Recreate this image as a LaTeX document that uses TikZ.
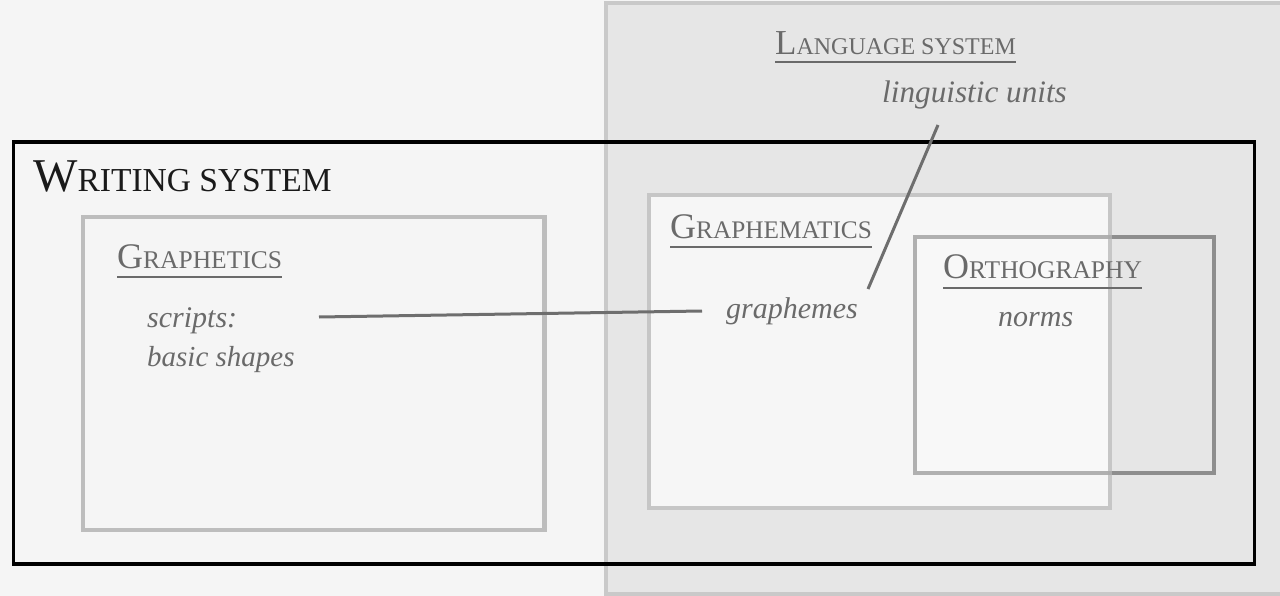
\documentclass[tikz,border=0pt]{standalone}
\usepackage{fontspec}
\setmainfont{Liberation Serif}
% capital followed by smaller capitals, used for the headings
\newcommand\capsc[4]{{\fontsize{#1}{#1}\selectfont #2\fontsize{#3}{#3}\selectfont #4}}
\definecolor{paper}{HTML}{F5F5F5}
\definecolor{langfill}{HTML}{E6E6E6}
\definecolor{langedge}{HTML}{C9C9C9}
\definecolor{boxedge}{HTML}{BDBDBD}
\definecolor{gmedge}{HTML}{C6C6C6}
\definecolor{gmfill}{HTML}{F6F6F6}
\definecolor{orthedge}{HTML}{8E8E8E}
\definecolor{labelgray}{HTML}{6A6A6A}
\definecolor{linkgray}{HTML}{6E6E6E}
\definecolor{titleblack}{HTML}{1A1A1A}
\begin{document}
\begin{tikzpicture}[x=1pt,y=-1pt,
  head/.style={anchor=base west,inner sep=0pt,text=labelgray},
  note/.style={anchor=base west,inner sep=0pt,text=labelgray,
    font=\fontsize{30pt}{39pt}\selectfont\itshape,align=left},
  uline/.style={draw=labelgray,line width=1.8pt},
  link/.style={draw=linkgray,line width=3pt},
]
\fill[paper] (0,0) rectangle (1280,596);
\useasboundingbox (0,0) rectangle (1280,596);

% language system: grey field on the right
\draw[fill=langfill,draw=langedge,line width=4pt] (606,3.5) rectangle (1292,594);

% writing system frame
\draw[draw=black,line width=3.6pt] (13.5,142) rectangle (1254.5,564);

% graphetics box
\draw[draw=boxedge,line width=4.5pt] (83,217) rectangle (544.5,530);

% graphematics box
\draw[fill=gmfill,draw=gmedge,line width=4pt] (649,195) rectangle (1110,507.5);

% orthography box
\draw[draw=orthedge,line width=4pt] (915,237) rectangle (1214,473);
\fill[white,opacity=0.3] (913,235) rectangle (1108,475);
\draw[draw=gmedge,opacity=0.55,line width=4pt] (649,195) rectangle (1110,507.5);

% headings
\node[head,text=titleblack] (ws) at (33,192) {\capsc{47pt}{W}{33.5pt}{RITING SYSTEM}};

\node[head] (ls) at (775,55) {\capsc{35pt}{L}{24pt}{ANGUAGE SYSTEM}};
\draw[uline] ([yshift=-7pt]ls.base west) -- ([yshift=-7pt]ls.base east);

\node[head] (gt) at (117,269) {\capsc{36pt}{G}{25.5pt}{RAPHETICS}};
\draw[uline] ([yshift=-8pt]gt.base west) -- ([yshift=-8pt]gt.base east);

\node[head] (gm) at (670,239) {\capsc{36pt}{G}{25.3pt}{RAPHEMATICS}};
\draw[uline] ([yshift=-8pt]gm.base west) -- ([yshift=-8pt]gm.base east);

\node[head] (or) at (943,279) {\capsc{36pt}{O}{25.5pt}{RTHOGRAPHY}};
\draw[uline] ([yshift=-9pt]or.base west) -- ([yshift=-9pt]or.base east);

% contents
\node[note,font=\fontsize{31.2pt}{39pt}\selectfont\itshape] (lu) at (882,103) {linguistic units};
\node[note] (sc) at (147,327) {scripts:};
\node[note,font=\fontsize{29pt}{39pt}\selectfont\itshape] (bs) at (147,366) {basic shapes};
\node[note] (gr) at (726,318) {graphemes};
\node[note] (nm) at (998,326) {norms};

% connectors
\coordinate (scEnd) at (319,317);
\coordinate (grEnd) at (702,311);
\coordinate (luEnd) at (938,125);
\coordinate (grTop) at (868,289);
\draw[link] (scEnd) -- (grEnd);
\draw[link] (luEnd) -- (grTop);
\end{tikzpicture}
\end{document}
